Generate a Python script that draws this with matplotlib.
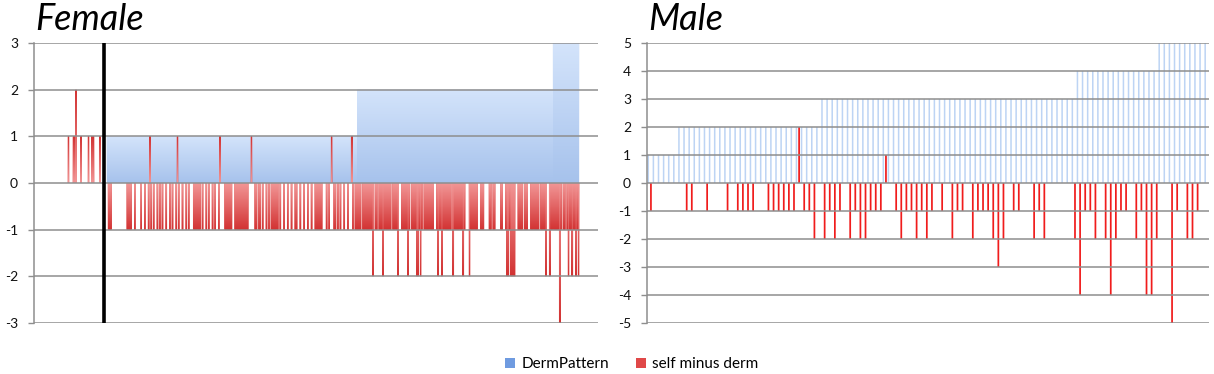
import numpy as np
import matplotlib
matplotlib.use("Agg")
import matplotlib.pyplot as plt
from matplotlib.patches import Patch, PathPatch
from matplotlib.path import Path
from matplotlib.colors import LinearSegmentedColormap

plt.rcParams['font.family'] = ['Lato', 'DejaVu Sans']
plt.rcParams['axes.unicode_minus'] = False

# ---------------- data ----------------
series_names = ["DermPattern", "self minus derm"]
panel_titles = ["Female", "Male"]

female_derm = [
    0,0,0,0,0,0,0,0,0,0,0,0,0,0,0,0,0,0,0,0,
    0,0,0,0,0,0,0,0,0,0,0,0,0,0,0,0,0,0,0,0,
    0,0,0,0,0,0,0,0,0,0,0,0,0,0,0,0,0,0,1,1,
    1,1,1,1,1,1,1,1,1,1,1,1,1,1,1,1,1,1,1,1,
    1,1,1,1,1,1,1,1,1,1,1,1,1,1,1,1,1,1,1,1,
    1,1,1,1,1,1,1,1,1,1,1,1,1,1,1,1,1,1,1,1,
    1,1,1,1,1,1,1,1,1,1,1,1,1,1,1,1,1,1,1,1,
    1,1,1,1,1,1,1,1,1,1,1,1,1,1,1,1,1,1,1,1,
    1,1,1,1,1,1,1,1,1,1,1,1,1,1,1,1,1,1,1,1,
    1,1,1,1,1,1,1,1,1,1,1,1,1,1,1,1,1,1,1,1,
    1,1,1,1,1,1,1,1,1,1,1,1,1,1,1,1,1,1,1,1,
    1,1,1,1,1,1,1,1,1,1,1,1,1,1,1,1,1,1,1,1,
    1,1,1,1,1,1,1,1,1,1,1,1,1,1,1,1,1,1,2,2,
    2,2,2,2,2,2,2,2,2,2,2,2,2,2,2,2,2,2,2,2,
    2,2,2,2,2,2,2,2,2,2,2,2,2,2,2,2,2,2,2,2,
    2,2,2,2,2,2,2,2,2,2,2,2,2,2,2,2,2,2,2,2,
    2,2,2,2,2,2,2,2,2,2,2,2,2,2,2,2,2,2,2,2,
    2,2,2,2,2,2,2,2,2,2,2,2,2,2,2,2,2,2,2,2,
    2,2,2,2,2,2,2,2,2,2,2,2,2,2,2,2,2,2,2,2,
    2,2,2,2,2,2,2,2,2,2,2,2,2,2,2,2,2,2,2,2,
    2,2,2,2,2,2,2,2,2,2,2,2,2,2,3,3,3,3,3,3,
    3,3,3,3,3,3,3,3,3,3,3,3,3,3,3,
]

female_diff = [
    0,0,0,0,0,0,0,0,0,0,0,0,0,0,0,0,0,0,0,0,
    0,0,0,0,0,0,0,1,0,0,0,1,1,2,0,0,0,1,0,0,
    0,0,0,1,0,0,1,1,0,0,0,0,1,0,0,0,0,0,0,-1,
    -1,-1,0,0,0,0,0,0,0,0,0,0,0,0,-1,-1,-1,-1,0,0,
    -1,0,0,0,0,-1,0,0,-1,0,0,-1,1,-1,0,-1,0,0,-1,0,
    -1,0,-1,0,0,-1,0,0,-1,0,-1,0,0,-1,1,-1,0,0,-1,0,
    0,-1,0,-1,0,0,0,-1,-1,-1,-1,-1,-1,0,-1,0,0,-1,0,-1,
    0,0,-1,0,-1,0,0,-1,1,0,0,0,-1,-1,-1,-1,-1,-1,0,0,
    -1,-1,-1,-1,-1,-1,-1,-1,-1,-1,-1,0,0,1,0,0,-1,-1,0,-1,
    -1,0,-1,0,0,-1,0,-1,0,-1,-1,-1,-1,-1,-1,0,-1,0,0,-1,
    0,0,-1,0,0,-1,0,0,-1,-1,0,0,-1,0,0,-1,0,0,-1,0,
    0,-1,0,0,-1,-1,-1,-1,-1,-1,0,0,0,-1,0,-1,0,1,0,-1,
    -1,0,-1,0,-1,0,0,-1,0,0,-1,0,0,1,-1,0,-1,-1,-1,-1,
    -1,0,-1,-1,-1,-1,-1,-1,-1,-1,-2,0,-1,-1,0,-1,-1,-1,-2,-1,
    -1,-1,-1,-1,-1,0,-1,-1,-1,-1,-2,0,0,-1,-1,-1,-1,-1,-2,-1,
    0,-1,-1,-1,-1,-2,-2,-1,-2,-1,0,-1,-1,-1,-1,-1,-1,-1,-1,0,
    0,-1,-2,-1,-1,-2,-1,-1,-1,-1,-1,-1,-1,0,-2,-1,-1,-1,-1,-1,
    -1,-1,-2,-1,0,0,0,-2,-1,-1,-1,-1,-1,-1,0,0,-1,-1,-1,0,
    0,0,0,-1,-1,0,-1,-1,0,0,0,0,-1,-1,0,0,-1,-2,-2,-1,
    -2,-2,-2,-2,0,0,-1,-1,-1,-1,0,-1,-1,-1,0,0,-1,-1,-1,-1,
    -1,-1,-1,0,-1,-1,-1,-1,-2,0,0,-2,-1,-1,-1,-1,-1,-1,-1,-3,
    -1,0,-1,-1,0,-1,-2,-1,-1,-2,-1,-1,-2,-1,-2,
]

male_derm = [
    1,1,1,1,1,1,2,2,2,2,
    2,2,2,2,2,2,2,2,2,2,
    2,2,2,2,2,2,2,2,2,2,
    2,2,2,2,3,3,3,3,3,3,
    3,3,3,3,3,3,3,3,3,3,
    3,3,3,3,3,3,3,3,3,3,
    3,3,3,3,3,3,3,3,3,3,
    3,3,3,3,3,3,3,3,3,3,
    3,3,3,3,4,4,4,4,4,4,
    4,4,4,4,4,4,4,4,4,4,
    5,5,5,5,5,5,5,5,5,5,
]

male_diff = [
    -1,0,0,0,0,0,0,-1,-1,0,
    0,-1,0,0,0,-1,0,-1,-1,-1,
    -1,0,0,-1,-1,-1,-1,-1,-1,2,
    -1,-1,-2,0,-2,-1,-2,-1,0,-2,
    -1,-2,-2,-1,-1,-1,1,0,-1,-2,
    -1,-1,-2,-1,-2,-1,0,-1,0,-2,
    -1,-1,0,-2,-1,-1,-1,-2,-3,-2,
    0,-1,-1,0,0,-2,-1,-2,0,0,
    0,0,0,-2,-4,-1,-1,-2,0,-2,
    -4,-2,-1,-1,0,-2,-1,-4,-4,-2,
    0,0,-5,-1,0,-2,-2,-1,0,0,
]

female_ticks = [-3, -2, -1, 0, 1, 2, 3]
male_ticks = [-5, -4, -3, -2, -1, 0, 1, 2, 3, 4, 5]
female_slots = 450          # category slots on the female axis
female_split = 55.5         # black separator line position (category axis)

# ---------------- style ----------------
BLUE = '#b9d0f2'
RED = '#e05050'
GRID = '#8e8e8e'


def gradient_overlay(ax, bars, values, c_base, c_tip, z):
    for v in sorted(set(values)):
        if v == 0:
            continue
        sel = [b for b, val in zip(bars, values) if val == v]
        paths = [b.get_path().transformed(b.get_patch_transform()) for b in sel]
        cp = Path.make_compound_path(*paths)
        clip = PathPatch(cp, transform=ax.transData, fc='none', ec='none')
        ax.add_patch(clip)
        xs = [b.get_x() for b in sel]
        x0, x1 = min(xs), max(xs) + sel[0].get_width()
        cmap = LinearSegmentedColormap.from_list('g', [c_base, c_tip])
        grad = np.linspace(0, 1, 256).reshape(-1, 1)
        if v < 0:
            grad = grad[::-1]
        im = ax.imshow(grad, cmap=cmap, extent=(x0, x1, min(0, v), max(0, v)),
                       origin='lower', aspect='auto', zorder=z,
                       interpolation='bilinear')
        im.set_clip_path(clip)


def style_axes(ax, ticks):
    ax.set_yticks(ticks)
    ax.set_ylim(ticks[0], ticks[-1])
    ax.set_xticks([])
    ax.yaxis.grid(True, color=GRID, lw=1.1)
    ax.set_axisbelow(False)
    for s in ['top', 'right', 'bottom']:
        ax.spines[s].set_visible(False)
    ax.spines['left'].set_color(GRID)
    ax.spines['left'].set_linewidth(1.1)
    ax.tick_params(axis='y', direction='out', length=4.5, width=1.0,
                   color=GRID, labelsize=10, pad=7, labelcolor='#111111')


W, H = 1214, 374
fig = plt.figure(figsize=(W / 100, H / 100), dpi=100)

# ---------------- Female ----------------
axF = fig.add_axes([34 / W, 1 - 323 / H, (598 - 34) / W, (323 - 43) / H])
xf = np.arange(len(female_derm))
bF = axF.bar(xf, female_derm, width=1.0, color=BLUE, linewidth=0, zorder=1,
             snap=False)
rF = axF.bar(xf, female_diff, width=1.3, color=RED, linewidth=0, zorder=1.2,
             snap=False)
gradient_overlay(axF, bF.patches, female_derm, '#a6c2ec', '#d4e4fb', 1.1)
gradient_overlay(axF, rF.patches, female_diff, '#f29696', '#d23232', 1.3)
axF.axvline(female_split, color='black', lw=2.6, zorder=4)
axF.set_xlim(-0.5, female_slots - 0.5)
style_axes(axF, female_ticks)

# ---------------- Male ----------------
axM = fig.add_axes([647 / W, 1 - 323 / H, (1209 - 647) / W, (323 - 43) / H])
xm = np.arange(len(male_derm))
axM.bar(xm - 0.25, male_derm, width=0.3, color='#bdd4f4', linewidth=0,
        zorder=1, snap=False)
axM.bar(xm + 0.27, male_diff, width=0.34, color='#f01c1c', linewidth=0,
        zorder=1.2, snap=False)
axM.set_xlim(-0.5, len(male_derm) - 0.5)
style_axes(axM, male_ticks)

# ---------------- titles ----------------
fig.text(35 / W, 1 - 30 / H, panel_titles[0], fontsize=26, style='italic',
         va='baseline', ha='left', color='black')
fig.text(648 / W, 1 - 30 / H, panel_titles[1], fontsize=26, style='italic',
         va='baseline', ha='left', color='black')

# ---------------- legend ----------------
handles = [Patch(facecolor='#6f9be0', edgecolor='none', label=series_names[0]),
           Patch(facecolor='#e04848', edgecolor='none', label=series_names[1])]
fig.legend(handles=handles, loc='center', bbox_to_anchor=(632 / W, 1 - 364 / H),
           ncol=2, frameon=False, fontsize=11, handlelength=0.65,
           handleheight=0.65, handletextpad=0.4, columnspacing=1.8)

fig.savefig('out.png', dpi=100)
